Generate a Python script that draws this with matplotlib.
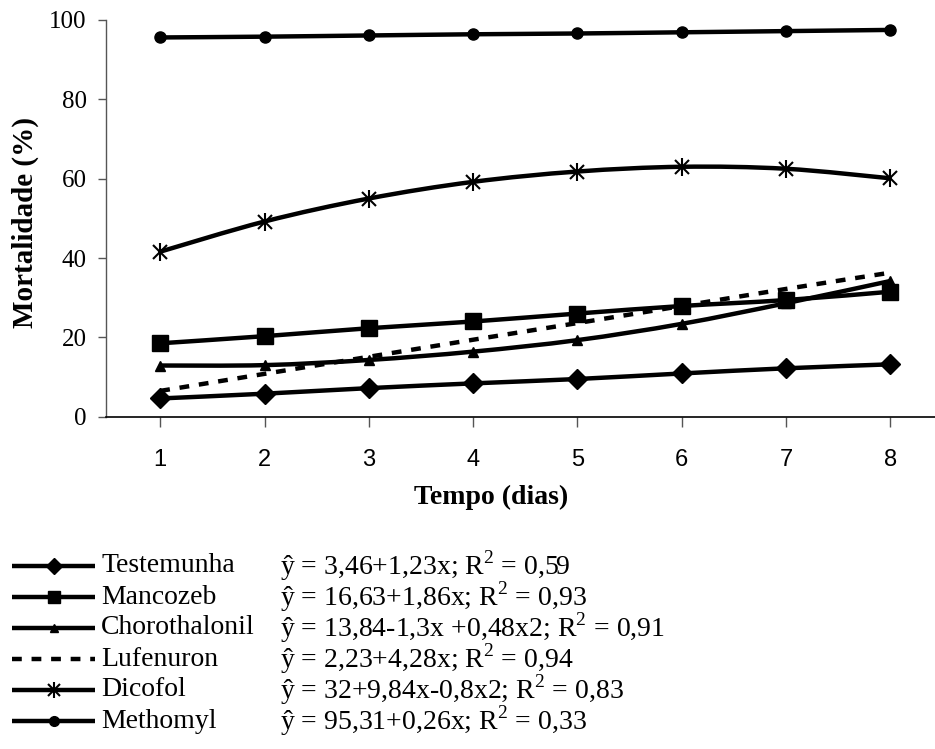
import matplotlib
matplotlib.use("Agg")
import matplotlib.pyplot as plt
from matplotlib.path import Path
from matplotlib.patches import PathPatch
from matplotlib.lines import Line2D
import numpy as np

plt.rcParams['mathtext.fontset'] = 'custom'
plt.rcParams['mathtext.rm'] = 'Liberation Serif'
SERIF = 'Liberation Serif'
SANS = 'Liberation Sans'

days = [1, 2, 3, 4, 5, 6, 7, 8]
testemunha = [4.6, 5.8, 7.2, 8.4, 9.5, 10.9, 12.2, 13.2]
mancozeb = [18.5, 20.3, 22.3, 24.0, 26.0, 27.9, 29.4, 31.5]
chorothalonil = [12.9, 13.0, 14.3, 16.4, 19.3, 23.4, 28.6, 34.2]
lufenuron = [6.5, 10.8, 15.1, 19.4, 23.6, 27.9, 32.2, 36.3]
dicofol = [41.6, 49.2, 55.0, 59.2, 61.8, 63.0, 62.5, 60.1]
methomyl = [95.6, 95.8, 96.1, 96.4, 96.6, 96.9, 97.2, 97.5]

names = ['Testemunha', 'Mancozeb', 'Chorothalonil', 'Lufenuron', 'Dicofol', 'Methomyl']
equations = [
    'ŷ = 3,46+1,23x; R$^2$ = 0,59',
    'ŷ = 16,63+1,86x; R$^2$ = 0,93',
    'ŷ = 13,84-1,3x +0,48x2; R$^2$ = 0,91',
    'ŷ = 2,23+4,28x; R$^2$ = 0,94',
    'ŷ = 32+9,84x-0,8x2; R$^2$ = 0,83',
    'ŷ = 95,31+0,26x; R$^2$ = 0,33',
]
series = [testemunha, mancozeb, chorothalonil, lufenuron, dicofol, methomyl]
markers = ['D', 's', '^', None, 'star', 'o']
msizes = [10, 11, 7, 0, 12, 8]
legend_msizes = [8, 8, 6, 0, 11, 7]
lstyles = ['-', '-', '-', (0, (2.2, 2.2)), '-', '-']

fig = plt.figure(figsize=(9.35, 7.49), dpi=100)
ax = fig.add_axes([106/935, 1-416.7/749, 1-106/935, (416.7-20)/749])


def smooth_path(x, y):
    x = np.asarray(x, float); y = np.asarray(y, float)
    verts = [(x[0], y[0])]
    codes = [Path.MOVETO]
    n = len(x)
    for i in range(n-1):
        p0 = np.array([x[max(i-1, 0)], y[max(i-1, 0)]])
        p1 = np.array([x[i], y[i]])
        p2 = np.array([x[i+1], y[i+1]])
        p3 = np.array([x[min(i+2, n-1)], y[min(i+2, n-1)]])
        c1 = p1 + (p2 - p0) / 6.0
        c2 = p2 - (p3 - p1) / 6.0
        verts += [tuple(c1), tuple(c2), tuple(p2)]
        codes += [Path.CURVE4] * 3
    return Path(verts, codes)


def draw_markers(target_plot, xs, ys, m, ms, **kw):
    if m is None:
        return
    if m == 'star':
        target_plot(xs, ys, linestyle='none', marker='x', ms=ms*0.85, mew=1.5, color='black', **kw)
        target_plot(xs, ys, linestyle='none', marker='|', ms=ms*1.05, mew=1.5, color='black', **kw)
    else:
        target_plot(xs, ys, linestyle='none', marker=m, ms=ms, color='black', mec='black', mew=1, **kw)


for vals, m, ms, ls in zip(series, markers, msizes, lstyles):
    patch = PathPatch(smooth_path(days, vals), facecolor='none', edgecolor='black',
                      lw=3.2, linestyle=ls, capstyle='butt', zorder=2)
    ax.add_patch(patch)
    draw_markers(ax.plot, days, vals, m, ms, zorder=3)

ax.set_xlim(0.48, 8.43)
ax.set_ylim(0, 100)
ax.set_xticks(days)
ax.set_xticklabels([str(d) for d in days], fontfamily=SANS, fontsize=17)
ax.set_yticks([0, 20, 40, 60, 80, 100])
ax.set_yticklabels(['0', '20', '40', '60', '80', '100'], fontfamily=SERIF, fontsize=18)
ax.tick_params(axis='y', direction='out', length=6, width=1, color='#555555', pad=8)
ax.tick_params(axis='x', direction='out', length=7, width=1, color='#555555', pad=16)
for s in ['top', 'right']:
    ax.spines[s].set_visible(False)
ax.spines['left'].set_color('#555555')
ax.spines['bottom'].set_color('black')
ax.spines['left'].set_linewidth(1)
ax.spines['bottom'].set_linewidth(1.2)

fig.text(25/935, 1-222/749, 'Mortalidade (%)', rotation=90, ha='center', va='center',
         fontfamily=SERIF, fontweight='bold', fontsize=21)
fig.text(491/935, 1-497/749, 'Tempo (dias)', ha='center', va='center',
         fontfamily=SERIF, fontweight='bold', fontsize=20)

# legend block
row_y = [566, 597, 628, 659, 690, 721]


def fig_plot(xs, ys, **kw):
    fig.add_artist(Line2D(xs, ys, transform=fig.transFigure, **kw))


for name, eq, m, ms, ls, yy in zip(names, equations, markers, legend_msizes, lstyles, row_y):
    yf = 1 - yy/749
    ln = Line2D([12/935, 95/935], [yf, yf], transform=fig.transFigure, color='black',
                lw=3.2, linestyle=ls, solid_capstyle='butt', dash_capstyle='butt')
    fig.add_artist(ln)
    draw_markers(fig_plot, [53.5/935], [yf], m, ms)
    fig.text(101/935, yf, name, ha='left', va='center', fontfamily=SERIF, fontsize=20)
    fig.text(280/935, yf, eq, ha='left', va='center', fontfamily=SERIF, fontsize=20)

fig.savefig('out.png', dpi=100)
